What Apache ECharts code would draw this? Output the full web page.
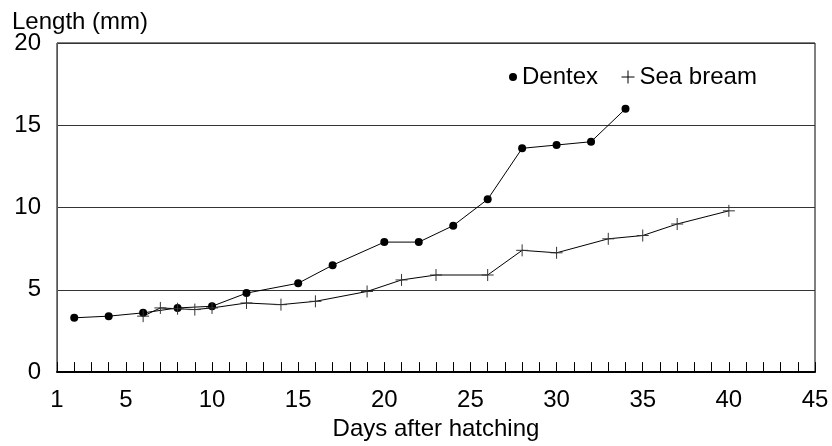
<!DOCTYPE html>
<html>
<head>
<meta charset="utf-8">
<script src="https://cdn.jsdelivr.net/npm/echarts@6/dist/echarts.min.js"></script>
<style>
html,body{margin:0;padding:0;background:#fff;}
#chart{width:832px;height:446px;}
</style>
</head>
<body>
<div id="chart"></div>
<script>
// Data
const dentexDays = [2, 4, 6, 8, 10, 12, 15, 17, 20, 22, 24, 26, 28, 30, 32, 34];
const dentexLength = [3.3, 3.4, 3.6, 3.9, 4.0, 4.8, 5.4, 6.5, 7.9, 7.9, 8.9, 10.5, 13.6, 13.8, 14.0, 16.0];
const breamDays = [6, 7, 8, 9, 10, 12, 14, 16, 19, 21, 23, 26, 28, 30, 33, 35, 37, 40];
const breamLength = [3.4, 3.9, 3.85, 3.8, 3.9, 4.2, 4.1, 4.3, 4.9, 5.6, 5.9, 5.9, 7.4, 7.25, 8.1, 8.3, 9.0, 9.8];
const xLabelValues = [1, 5, 10, 15, 20, 25, 30, 35, 40, 45];
const seriesNames = ['Dentex', 'Sea bream'];

const FONT = '"Liberation Sans", Arial, sans-serif';
const FS = 24;
const plusPath = 'path://M0,6 L12,6 M6,0 L6,12';

const pairs = (xs, ys) => xs.map((x, i) => [x, ys[i]]);

const chart = echarts.init(document.getElementById('chart'), null, {renderer: 'canvas'});
chart.setOption({
  animation: false,
  backgroundColor: '#fff',
  textStyle: {fontFamily: FONT, color: '#000'},
  title: {
    text: 'Length (mm)',
    left: 12,
    top: 10,
    padding: 0,
    textStyle: {fontFamily: FONT, fontSize: FS, fontWeight: 'normal', color: '#000'}
  },
  legend: [
    {
      data: [{name: seriesNames[0], icon: 'circle'}],
      left: 509, top: 65, padding: 0,
      itemWidth: 8, itemHeight: 8,
      itemStyle: {color: '#000', borderWidth: 0},
      textStyle: {fontFamily: FONT, fontSize: FS, color: '#000'}
    },
    {
      data: [{name: seriesNames[1], icon: plusPath}],
      left: 621, top: 65, padding: 0,
      itemWidth: 13, itemHeight: 13,
      itemStyle: {color: '#000', borderColor: '#000', borderWidth: 1},
      textStyle: {fontFamily: FONT, fontSize: FS, color: '#000'}
    }
  ],
  grid: {
    left: 57, right: 17, top: 43, bottom: 69,
    show: true, borderColor: '#000', borderWidth: 1, backgroundColor: 'transparent',
    containLabel: false
  },
  xAxis: {
    type: 'value',
    min: 1, max: 45, interval: 1,
    name: 'Days after hatching',
    nameLocation: 'middle',
    nameGap: 40,
    nameTextStyle: {fontFamily: FONT, fontSize: FS, color: '#000'},
    axisLine: {show: true, lineStyle: {color: '#000', width: 2}},
    axisTick: {show: true, inside: true, length: 10, lineStyle: {color: '#000', width: 1}},
    axisLabel: {
      margin: 16,
      fontFamily: FONT, fontSize: FS, color: '#000',
      formatter: v => xLabelValues.includes(v) ? String(v) : ''
    },
    splitLine: {show: false}
  },
  yAxis: {
    type: 'value',
    min: 0, max: 20, interval: 5,
    axisLine: {show: true, lineStyle: {color: '#555', width: 1}},
    axisTick: {show: false},
    axisLabel: {margin: 16, fontFamily: FONT, fontSize: FS, color: '#000'},
    splitLine: {show: true, lineStyle: {color: '#333', width: 1}}
  },
  series: [
    {
      name: seriesNames[0],
      type: 'line',
      data: pairs(dentexDays, dentexLength),
      symbol: 'circle',
      symbolSize: 8,
      showAllSymbol: true,
      itemStyle: {color: '#000'},
      lineStyle: {color: '#000', width: 1}
    },
    {
      name: seriesNames[1],
      type: 'line',
      data: pairs(breamDays, breamLength),
      symbol: plusPath,
      symbolSize: 12,
      showAllSymbol: true,
      itemStyle: {color: '#000', borderColor: '#333', borderWidth: 1},
      lineStyle: {color: '#000', width: 1}
    }
  ]
});
</script>
</body>
</html>
